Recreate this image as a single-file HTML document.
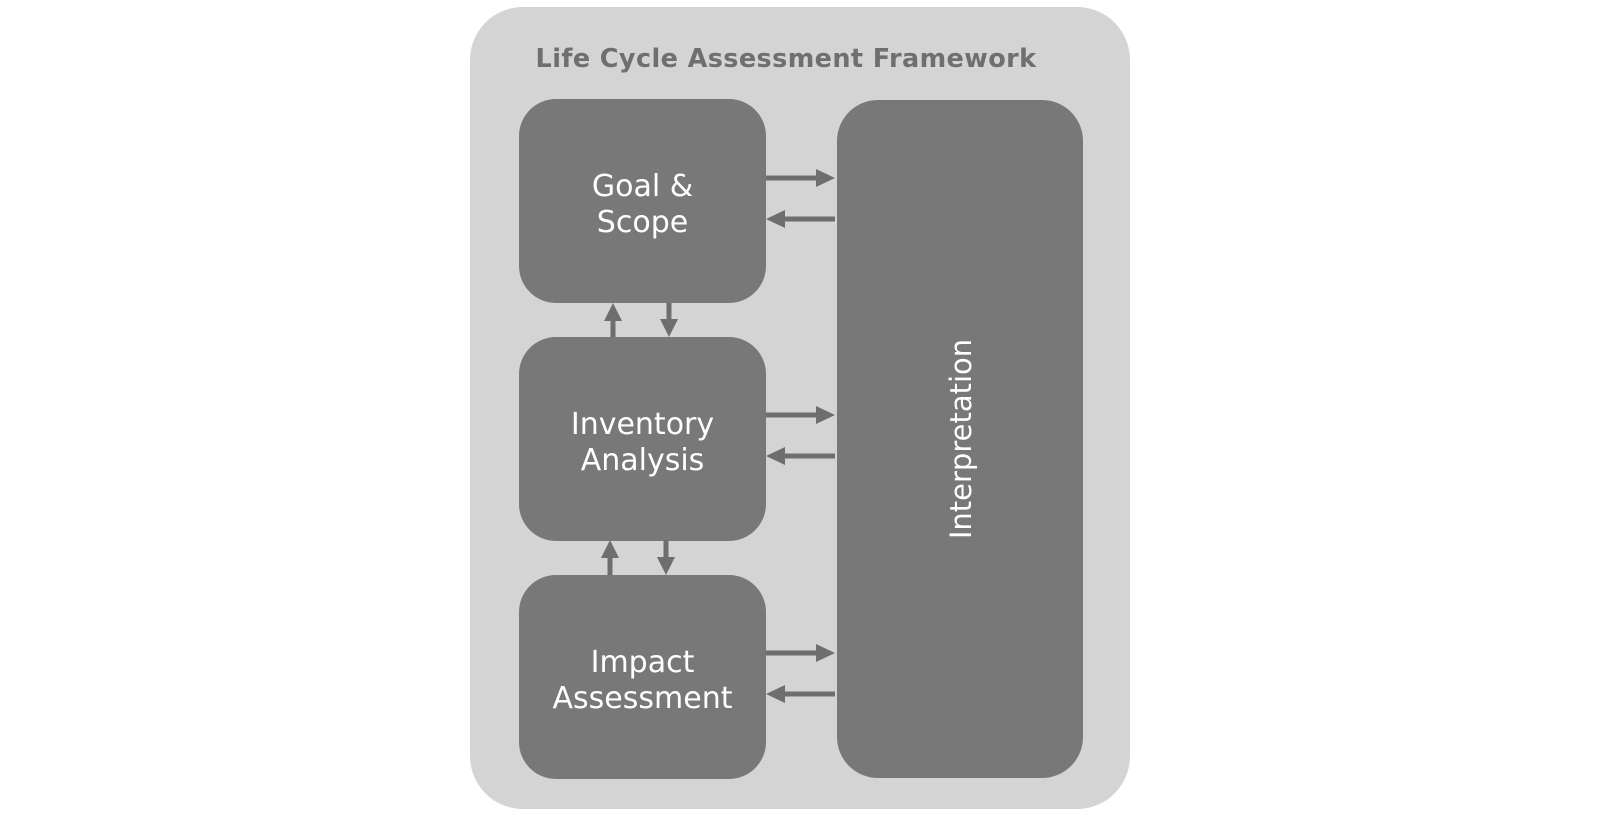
<!DOCTYPE html>
<html><head><style>
body{margin:0;width:1600px;height:816px;background:#fff;position:relative;overflow:hidden;font-family:"DejaVu Sans","Liberation Sans",sans-serif}
.o{position:absolute;left:470px;top:7px;width:660px;height:802px;background:#d4d4d4;border-radius:53px}
.t{position:absolute;left:486px;width:600px;top:44px;text-align:center;font-weight:bold;font-size:25.5px;color:#6f6f6f;letter-spacing:0.4px}
.b{position:absolute;left:519px;width:247px;height:204px;background:#787878;border-radius:37px;color:#fff;font-size:30px;line-height:36px;display:flex;align-items:center;justify-content:center;text-align:center}
.i{position:absolute;left:837px;top:100px;width:246px;height:678px;background:#787878;border-radius:41px}
.r{position:absolute;left:961px;top:439px;transform:translate(-50%,-50%) rotate(-90deg);color:#fff;font-size:29px;white-space:nowrap}
svg{position:absolute;left:0;top:0}
</style></head><body>
<div class="o"></div>
<div class="t">Life Cycle Assessment Framework</div>
<div class="b" style="top:99px"><div style="margin-top:8px">Goal &amp;<br>Scope</div></div>
<div class="b" style="top:337px"><div style="margin-top:8px">Inventory<br>Analysis</div></div>
<div class="b" style="top:575px"><div style="margin-top:8px">Impact<br>Assessment</div></div>
<div class="i"></div>
<div class="r">Interpretation</div>
<svg width="1600" height="816" fill="#6e6e6e">
<defs>
<g id="ra"><rect x="766" y="-2.5" width="52" height="5"/><polygon points="816,-9 835,0 816,9"/></g>
<g id="la"><rect x="783" y="-2.5" width="52" height="5"/><polygon points="785,-9 766,0 785,9"/></g>
</defs>
<use href="#ra" y="178"/><use href="#la" y="219"/>
<use href="#ra" y="415"/><use href="#la" y="456"/>
<use href="#ra" y="653"/><use href="#la" y="694"/>
<rect x="610.5" y="318" width="5" height="19"/><polygon points="604,321 613,303 622,321"/>
<rect x="666.5" y="303" width="5" height="19"/><polygon points="660,319 669,337 678,319"/>
<rect x="607.5" y="555" width="5" height="20"/><polygon points="601,558 610,540 619,558"/>
<rect x="663.5" y="540" width="5" height="19"/><polygon points="657,557 666,575 675,557"/>
</svg>
</body></html>
